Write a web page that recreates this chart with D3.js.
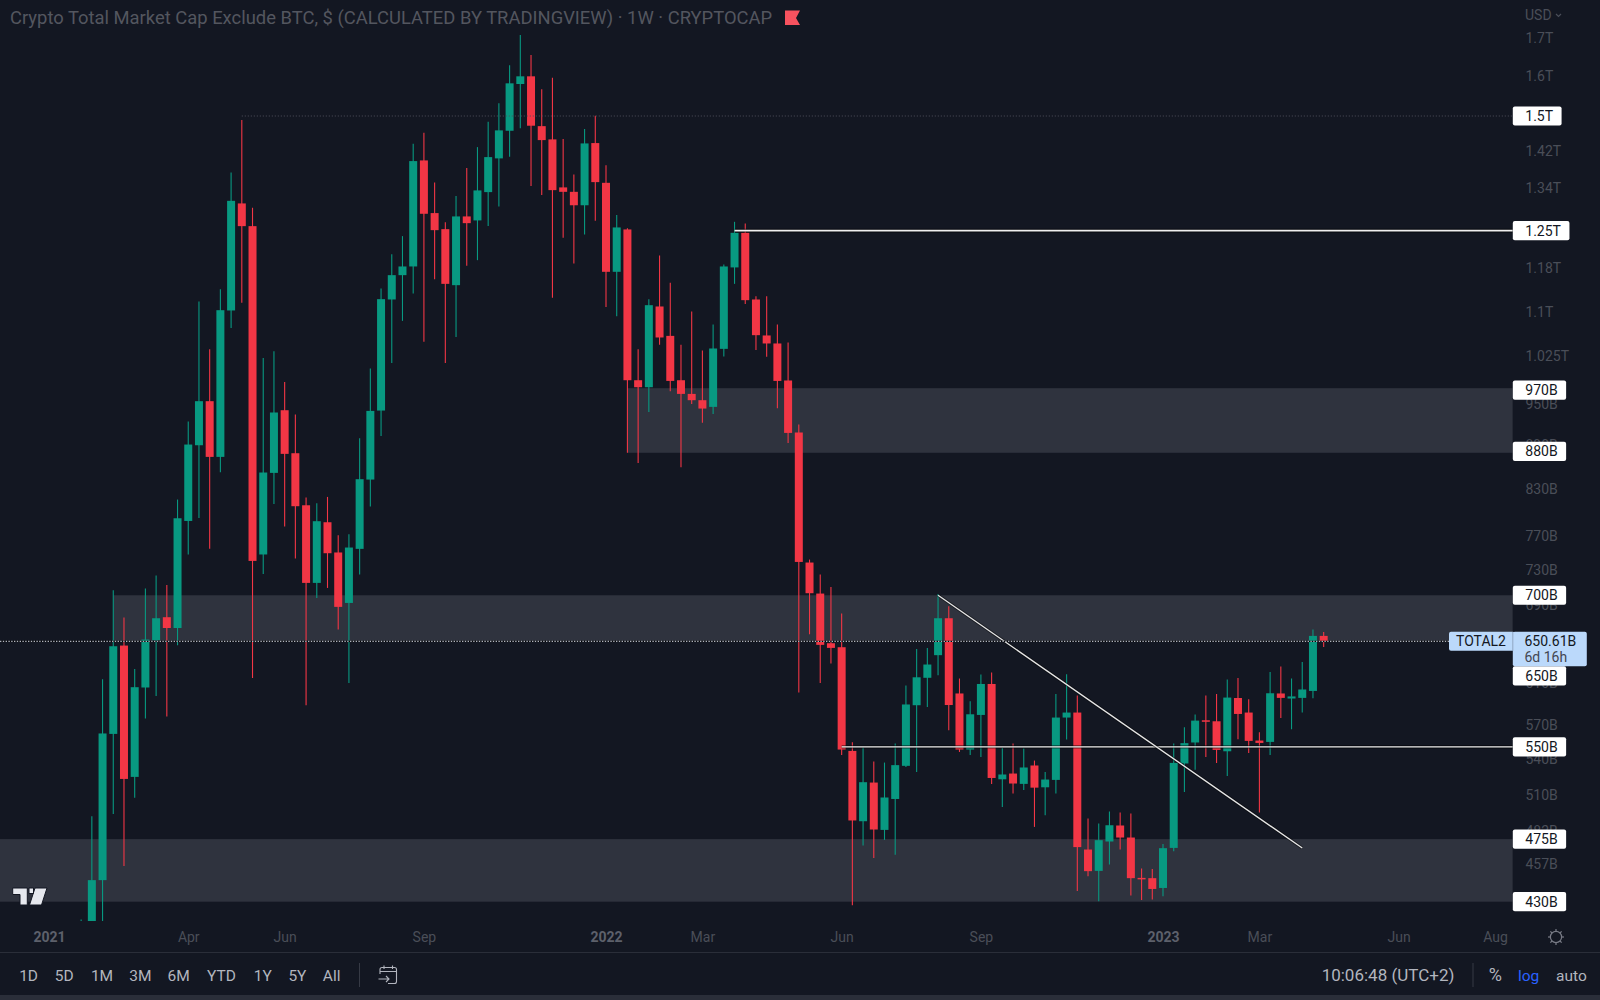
<!DOCTYPE html>
<html>
<head>
<meta charset="utf-8">
<title>TOTAL2</title>
<script src="https://cdn.jsdelivr.net/npm/d3@7"></script>
<style>
  html, body { margin: 0; padding: 0; background: #131722; }
  svg { display: block; }
  text { font-family: Roboto, sans-serif; }
</style>
</head>
<body>
<svg id="chart" width="1600" height="1000"></svg>
<script>
// weekly candles, in billions of USD, first one is the week of 25 Jan 2021
const firstWeek = "2021-01-25";
const opens = [
  412, 415, 445, 561.5, 646.2, 524.4, 604.5, 651.7, 676, 664.5,
  787.8, 888.6, 953.1, 872.3, 1101, 1305.3, 1259, 746.9, 850.4, 939.5,
  877.4, 807.7, 713.9, 786.2, 749.3, 691.5, 753.6, 841.4, 939, 1120.4,
  1164.6, 1180.8, 1397.7, 1285.4, 1253, 1146.2, 1278.6, 1270.5, 1329, 1402.2,
  1465.2, 1578.3, 1597.7, 1476, 1445.2, 1339, 1329.6, 1301.5, 1436.8, 1348.8,
  1170.8, 1252.4, 985.4, 974.5, 1108, 1057.4, 985.4, 964.2, 954.6, 944.5,
  1035.8, 1179, 1245.7, 1120.4, 1058.1, 1044.7, 985, 906.8, 737.4, 701.9,
  648.6, 644.5, 546.5, 488.7, 519.7, 482, 506.3, 533.7, 587.7, 613.9,
  636.4, 674.9, 598.8, 547.7, 578.7, 607.9, 522.4, 527.2, 518.6, 534,
  515.8, 521.9, 576.3, 580.9, 467.2, 451.6, 473.2, 485.4, 476.2, 446.6,
  446.4, 439.5, 468.4, 535.7, 553.9, 573.8, 572.9, 546.2, 594.5, 580.9,
  555.6, 554.4, 598.8, 594, 594.6, 601.2, 656.2
];
const highs = [
  418, 492.6, 612.5, 705.6, 675.6, 622.6, 707.5, 722.3, 711.6, 815.1,
  922.8, 1116.9, 1035.3, 1138.9, 1371.3, 1490.3, 1296.2, 1021, 1031.9, 982.8,
  933.1, 817.7, 810.3, 818.5, 770.2, 771.4, 898.6, 1003.9, 1140.2, 1204.2,
  1239.2, 1435.1, 1460.5, 1349.7, 1267, 1320.6, 1380.7, 1427.6, 1486.3, 1530.5,
  1626, 1706, 1652.9, 1565, 1594.2, 1445.9, 1367, 1469.1, 1500.6, 1387.2,
  1281.3, 1255, 1035.3, 1121, 1201.7, 1150.5, 1042.4, 1099.2, 1033.1, 1076.8,
  1184.6, 1267.7, 1264.5, 1126.3, 1126.3, 1076.8, 1046.4, 918.4, 740.9, 723.4,
  709.3, 680, 554.1, 549.5, 537.4, 536.5, 553, 606.5, 642.7, 643.8,
  701.5, 687.9, 613.2, 591.5, 617.1, 619, 549.1, 553, 548.6, 538.2,
  528.6, 598.4, 617.4, 596.9, 490.8, 487, 496.3, 495.5, 494.7, 453.3,
  453, 471.4, 553, 567.5, 579, 596.9, 598.4, 612.2, 613.8, 593.3,
  563, 619.6, 625, 613.2, 629.6, 663, 660.3
];
const lows = [
  410, 415, 415, 494.4, 455.2, 507.2, 575.4, 596.5, 577.2, 646.5,
  746.9, 791.6, 753.6, 851.3, 1070.9, 1114.4, 613.8, 724.1, 809.4, 780.9,
  742.1, 587.7, 697, 708.2, 662.8, 608.9, 723.4, 806.1, 901.9, 1012.9,
  1082.9, 1131.2, 1047.4, 1157.2, 1012.9, 1055.7, 1182, 1192.7, 1259.5, 1299.2,
  1405.8, 1470.8, 1341.8, 1322.7, 1123.3, 1235.8, 1186.5, 1242.5, 1269.7, 1107.3,
  1091, 877.9, 864, 937, 1042.4, 968.4, 858.1, 949, 920.8, 934,
  1023.3, 1148.6, 1112.6, 1034.1, 1022.7, 942.5, 891.9, 599.7, 657.9, 608.9,
  628, 543, 427.6, 470.2, 461, 474.4, 463.3, 532.8, 528.4, 586.1,
  616.4, 564.8, 545.6, 543, 541.3, 518.6, 499.9, 510.7, 513.6, 484.3,
  493.4, 510.7, 556.5, 437.4, 447.8, 430.3, 456.2, 467.2, 434.2, 431.2,
  431.5, 433.8, 466, 512, 530.3, 541.3, 536.2, 525.2, 556.8, 544.8,
  495.5, 543, 575.9, 565.7, 580.9, 594.3, 644.8
];
const closes = [
  414, 445, 561.9, 645.5, 522.7, 604.8, 652.4, 674.9, 664.5, 791.2,
  889.6, 953.1, 872.3, 1101.5, 1310.7, 1259, 739.3, 850.9, 936.1, 876.5,
  806.5, 713.9, 787.5, 748.4, 687.2, 755.2, 841.9, 938.5, 1121, 1164.6,
  1180.8, 1396.2, 1284, 1251, 1148.6, 1278.6, 1265, 1332.6, 1405.1, 1466.1,
  1580, 1597.7, 1477, 1443.6, 1333.2, 1329.6, 1301.5, 1436, 1350.3, 1170.8,
  1256.4, 985.4, 974.5, 1110.3, 1054.7, 984.3, 964.2, 954.6, 942, 1036.4,
  1180.8, 1245.7, 1119.2, 1058.6, 1044.7, 984.3, 906.2, 738.1, 702.3, 646.9,
  643.8, 547.7, 489.3, 520, 482.3, 507.5, 534.3, 588.4, 614.4, 627,
  674.9, 587.9, 547.7, 579.3, 607.9, 523.5, 526.4, 518.9, 532.3, 515.5,
  522.2, 576.3, 580.9, 469, 451.4, 474.2, 485.6, 476.2, 446.4, 445.7,
  438.8, 468.2, 536.2, 553.3, 573.5, 572.6, 547.4, 594.9, 579.6, 555.3,
  553.5, 599, 594.6, 596, 602.6, 656.2, 650.61
];

const priceTicks = [1700, 1600, 1420, 1340, 1180, 1100, 1025, 950, 890, 830, 770, 730, 690, 610, 570, 540, 510, 482, 457];
const timeTicks = ["2021-01-04", "2021-04-05", "2021-06-07", "2021-09-06", "2022-01-03", "2022-03-07", "2022-06-06", "2022-09-05", "2023-01-02", "2023-03-06", "2023-06-05", "2023-08-07"];
const timeLabels = ["2021", "Apr", "Jun", "Sep", "2022", "Mar", "Jun", "Sep", "2023", "Mar", "Jun", "Aug"];

const levelLabels = [1500, 1250, 970, 880, 700, 650, 550, 475, 430];
const zoneStarts = ["2022-01-17", "2021-02-15", "2020-11-01"];
const zoneTops = [973, 700, 475];
const zoneBottoms = [878, 650, 430];
const lastPrice = 650.61;

const trendDates = ["2022-08-08", "2023-04-03"];
const trendValues = [700, 468.3];

const rangeButtons = ["1D", "5D", "1M", "3M", "6M", "YTD", "1Y", "5Y", "All"];
const rangeCenters = [28.6, 64.3, 102, 140.3, 178.6, 221.4, 262.8, 297.4, 331.6];

const RED = "#f23645", GREEN = "#089981", BG = "#131722";
const paneRight = 1512.8, paneBottom = 921;

const svg = d3.select("#chart");
const parse = d3.utcParse("%Y-%m-%d");

const x = d3.scaleUtc()
  .domain([parse("2021-01-04"), parse("2023-01-02")])
  .range([49, 1163]);
const y = d3.scaleLog()
  .domain([1500, 430])
  .range([116, 901.7]);

const week = i => d3.utcWeek.offset(parse(firstWeek), i);
const candles = opens.map((o, i) => ({
  date: week(i), open: o, high: highs[i], low: lows[i], close: closes[i]
}));

svg.append("rect").attr("width", 1600).attr("height", 1000).attr("fill", BG);

svg.append("clipPath").attr("id", "pane").append("rect")
  .attr("width", paneRight).attr("height", paneBottom);
const pane = svg.append("g").attr("clip-path", "url(#pane)");

// grey zones, the last one runs off the left edge and gets clipped
pane.selectAll(".zone")
  .data(zoneStarts)
  .join("rect")
  .attr("class", "zone")
  .attr("x", d => x(parse(d)))
  .attr("y", (d, i) => y(zoneTops[i]))
  .attr("width", d => paneRight - x(parse(d)))
  .attr("height", (d, i) => y(zoneBottoms[i]) - y(zoneTops[i]))
  .attr("fill", "#2f333e");

// candles
pane.selectAll(".wick")
  .data(candles)
  .join("line")
  .attr("class", "wick")
  .attr("x1", d => x(d.date)).attr("x2", d => x(d.date))
  .attr("y1", d => y(d.high)).attr("y2", d => y(d.low))
  .attr("stroke", d => d.close >= d.open ? GREEN : RED)
  .attr("stroke-width", 1.1);

pane.selectAll(".body")
  .data(candles)
  .join("rect")
  .attr("class", "body")
  .attr("x", d => x(d.date) - 4)
  .attr("y", d => y(Math.max(d.open, d.close)))
  .attr("width", 8)
  .attr("height", d => Math.max(1.5, y(Math.min(d.open, d.close)) - y(Math.max(d.open, d.close))))
  .attr("fill", d => d.close >= d.open ? GREEN : RED);

// horizontal levels
function level(value, fromDate, width, dash) {
  const from = x(parse(fromDate));
  if (!dash) {
    pane.append("line")
      .attr("x1", from).attr("x2", paneRight)
      .attr("y1", y(value)).attr("y2", y(value))
      .attr("stroke", "#000").attr("stroke-width", width + 2).attr("opacity", 0.55);
  }
  pane.append("line")
    .attr("x1", from).attr("x2", paneRight)
    .attr("y1", y(value)).attr("y2", y(value))
    .attr("stroke", dash ? "#4f525c" : "#f0f0f0")
    .attr("stroke-width", width)
    .attr("stroke-dasharray", dash);
}
level(1500, "2021-05-10", 1, "1,2");
level(1250, "2022-03-28", 1.6);
level(550, "2022-06-06", 1.4);

// trend line
const trendLine = d3.line()
  .x(d => x(parse(d)))
  .y((d, i) => y(trendValues[i]));
pane.append("path").attr("d", trendLine(trendDates))
  .attr("stroke", "#000").attr("stroke-width", 3).attr("opacity", 0.5).attr("fill", "none");
pane.append("path").attr("d", trendLine(trendDates))
  .attr("stroke", "#e6e6e6").attr("stroke-width", 1.4).attr("fill", "none");

// last price line
svg.append("line")
  .attr("x1", 0).attr("x2", 1449)
  .attr("y1", y(lastPrice)).attr("y2", y(lastPrice))
  .attr("stroke", "#000").attr("stroke-width", 1.2);
svg.append("line")
  .attr("x1", 0).attr("x2", 1449)
  .attr("y1", y(lastPrice)).attr("y2", y(lastPrice))
  .attr("stroke", "#aeb3bf").attr("stroke-width", 1.2).attr("stroke-dasharray", "1.4,1.4");

// price axis
const yAxis = d3.axisRight(y)
  .tickValues(priceTicks)
  .tickSize(0)
  .tickPadding(12.7)
  .tickFormat(d => d >= 1000 ? (d / 1000) + "T" : d + "B");
const yG = svg.append("g").attr("transform", `translate(${paneRight},0)`).call(yAxis);
yG.select(".domain").remove();
yG.selectAll("text").attr("fill", "#4a4e58").attr("font-size", 14).attr("dy", "0.39em");

svg.append("text").attr("x", 1525).attr("y", 20).attr("fill", "#4a4e58").attr("font-size", 14).text("USD");
svg.append("path").attr("d", "M1556 14l2.5 2.5l2.5-2.5").attr("fill", "none").attr("stroke", "#4a4e58").attr("stroke-width", 1.2);

// time axis
const xAxis = d3.axisBottom(x)
  .tickValues(timeTicks.map(parse))
  .tickSize(0)
  .tickPadding(11)
  .tickFormat((d, i) => timeLabels[i]);
const xG = svg.append("g").attr("transform", `translate(0,${paneBottom})`).call(xAxis);
xG.select(".domain").remove();
xG.selectAll("text")
  .attr("font-size", 14)
  .attr("fill", (d, i) => timeLabels[i].length === 4 ? "#5d606b" : "#4a4e58")
  .attr("font-weight", (d, i) => timeLabels[i].length === 4 ? 700 : 400);

// level labels on the price axis, 650B gets pushed below the last price box
const boxBottom = y(lastPrice) + 25;
levelLabels.forEach(v => {
  let cy = y(v);
  if (v === 650) cy = boxBottom + 9.5;
  const g = svg.append("g");
  const rect = g.append("rect");
  const t = g.append("text")
    .attr("x", 1525.3).attr("y", cy).attr("dy", "0.36em")
    .attr("font-size", 14).attr("fill", "#131722")
    .text(v >= 1000 ? (v / 1000) + "T" : v + "B");
  const w = t.node().getComputedTextLength();
  rect.attr("x", paneRight).attr("y", cy - 9.6)
    .attr("width", w + 21).attr("height", 19.2)
    .attr("rx", 2).attr("fill", "#ffffff");
});

// last price tag
svg.append("rect").attr("x", 1449).attr("y", y(lastPrice) - 9.5).attr("width", 66).attr("height", 19).attr("rx", 2).attr("fill", "#bbd9fb");
svg.append("rect").attr("x", paneRight).attr("y", y(lastPrice) - 9.5).attr("width", 74).attr("height", 34.5).attr("rx", 2).attr("fill", "#bbd9fb");
svg.append("line").attr("x1", paneRight).attr("x2", paneRight).attr("y1", y(lastPrice) - 9.5).attr("y2", y(lastPrice) + 9.5).attr("stroke", "#131722").attr("stroke-opacity", 0.25);
svg.append("text").attr("x", 1456).attr("y", y(lastPrice)).attr("dy", "0.36em").attr("font-size", 14).attr("fill", "#131722").text("TOTAL2");
svg.append("text").attr("x", 1524.5).attr("y", y(lastPrice)).attr("dy", "0.36em").attr("font-size", 14).attr("fill", "#131722").text("650.61B");
svg.append("text").attr("x", 1524.5).attr("y", y(lastPrice) + 15.5).attr("dy", "0.36em").attr("font-size", 14).attr("fill", "#434651").text("6d 16h");

// header
svg.append("text").attr("x", 10).attr("y", 24).attr("font-size", 18.4).attr("fill", "#53565f")
  .text("Crypto Total Market Cap Exclude BTC, $ (CALCULATED BY TRADINGVIEW) · 1W · CRYPTOCAP");
svg.append("path").attr("d", "M785 10.5H800L796 18L800 25H785Z").attr("fill", "#f7525f");

// tradingview mark
const logo = "M12.7 888H27.3V905H20V894.5H12.7Z M29 888H33.5V893.5H29Z M35 888H47L41.5 905H29.5Z";
svg.append("path").attr("d", logo).attr("fill", "#e6e8ee").attr("stroke", "#131722").attr("stroke-width", 1);

// settings icon
const gear = svg.append("g").attr("transform", "translate(1556,937)").attr("stroke", "#787b86").attr("fill", "none");
gear.append("circle").attr("r", 5.6).attr("stroke-width", 1.2);
d3.range(8).forEach(i => {
  const a = i * Math.PI / 4;
  gear.append("line")
    .attr("x1", 5.6 * Math.cos(a)).attr("y1", 5.6 * Math.sin(a))
    .attr("x2", 8 * Math.cos(a)).attr("y2", 8 * Math.sin(a))
    .attr("stroke-width", 1.2);
});

// bottom toolbar
svg.append("line").attr("x1", 0).attr("x2", 1600).attr("y1", 952.5).attr("y2", 952.5).attr("stroke", "#2a2e39");
svg.append("rect").attr("y", 995).attr("width", 1600).attr("height", 5).attr("fill", "#2a2e39");

svg.selectAll(".range")
  .data(rangeButtons)
  .join("text")
  .attr("class", "range")
  .attr("x", (d, i) => rangeCenters[i])
  .attr("y", 975).attr("dy", "0.36em")
  .attr("text-anchor", "middle")
  .attr("font-size", 15.5)
  .attr("fill", "#b2b5be")
  .text(d => d);

svg.append("line").attr("x1", 359.5).attr("x2", 359.5).attr("y1", 963).attr("y2", 987).attr("stroke", "#363a45");
svg.append("line").attr("x1", 1473).attr("x2", 1473).attr("y1", 963).attr("y2", 987).attr("stroke", "#363a45");

const cal = svg.append("g").attr("fill", "none").attr("stroke", "#b2b5be").attr("stroke-width", 1.1);
cal.append("path").attr("d", "M380 974V969.5a2 2 0 0 1 2-2H394.5a2 2 0 0 1 2 2V981.5a2 2 0 0 1-2 2H388");
cal.append("path").attr("d", "M380 971.5H396.5 M384 965.5V969 M392.5 965.5V969 M378.5 979H389 M386 976L389 979L386 982");

svg.append("text").attr("x", 1388).attr("y", 975).attr("dy", "0.36em").attr("text-anchor", "middle").attr("font-size", 17).attr("fill", "#b2b5be").text("10:06:48 (UTC+2)");
svg.append("text").attr("x", 1495.4).attr("y", 975).attr("dy", "0.36em").attr("text-anchor", "middle").attr("font-size", 18).attr("fill", "#b2b5be").text("%");
svg.append("text").attr("x", 1528.6).attr("y", 975).attr("dy", "0.36em").attr("text-anchor", "middle").attr("font-size", 15.5).attr("fill", "#2962ff").text("log");
svg.append("text").attr("x", 1571.4).attr("y", 975).attr("dy", "0.36em").attr("text-anchor", "middle").attr("font-size", 15.5).attr("fill", "#b2b5be").text("auto");
</script>
</body>
</html>
